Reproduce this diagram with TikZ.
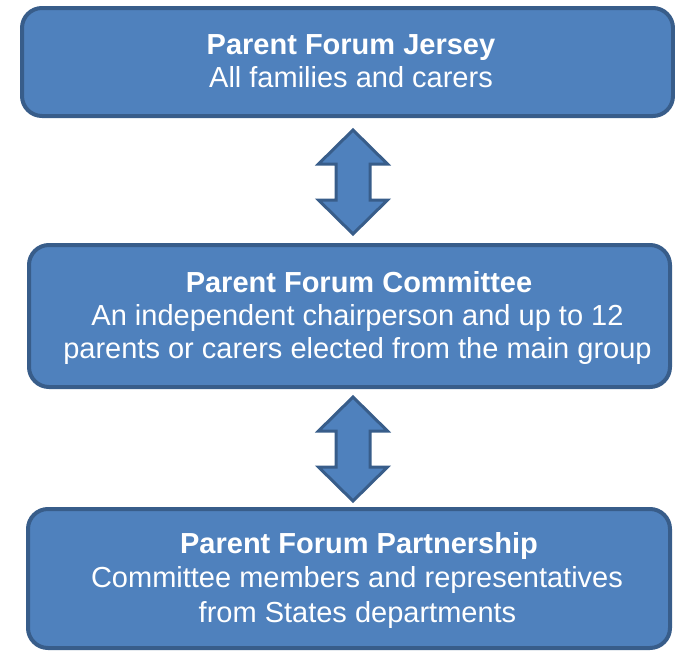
\documentclass[tikz,border=0pt]{standalone}
\usepackage{fontspec}
\setmainfont{Liberation Sans}
\usetikzlibrary{calc}
\definecolor{boxfill}{HTML}{4F81BD}
\definecolor{boxline}{HTML}{385D8A}
\tikzset{
  box/.style={draw=boxline, fill=boxfill, line width=4pt, rounded corners=20pt, inner sep=0pt},
  ln/.style={anchor=base, text=white, inner sep=0pt, font=\fontsize{29}{33.3}\selectfont},
  lnb/.style={ln, font=\fontsize{29}{33.3}\selectfont\bfseries},
  dblarrow/.style={draw=boxline, fill=boxfill, line width=3pt, line join=miter},
}
\begin{document}
\begin{tikzpicture}[x=1pt,y=-1pt]
\useasboundingbox (0,0) rectangle (675,651);
% boxes
\node[box, minimum width=651pt, minimum height=108pt] (jersey) at (347.5,62) {};
\node[box, minimum width=641pt, minimum height=142pt] (committee) at (349.5,316) {};
\node[box, minimum width=642pt, minimum height=139pt] (partnership) at (349,578.5) {};
% texts
\node[lnb] (j1) at (351,54) {Parent Forum Jersey};
\node[ln]  (j2) at (351,87) {All families and carers};
\node[lnb] (c1) at (359,292) {Parent Forum Committee};
\node[ln]  (c2) at (357.5,325) {An independent chairperson and up to 12};
\node[ln]  (c3) at (357.5,358) {parents or carers elected from the main group};
\node[lnb] (p1) at (359,553) {Parent Forum Partnership};
\node[ln]  (p2) at (357,587) {Committee members and representatives};
\node[ln]  (p3) at (357.5,622) {from States departments};
% double arrows
\coordinate (a1) at (353,182);
\coordinate (a2) at (353,449);
\foreach \c in {a1,a2}{
  \draw[dblarrow] ($(\c)+(0,-52)$) -- ++(34.5,34) -- ++(-17.5,0) -- ++(0,36)
    -- ++(17.5,0) -- ++(-34.5,34) -- ++(-34.5,-34) -- ++(17.5,0)
    -- ++(0,-36) -- ++(-17.5,0) -- cycle;
}
\end{tikzpicture}
\end{document}
